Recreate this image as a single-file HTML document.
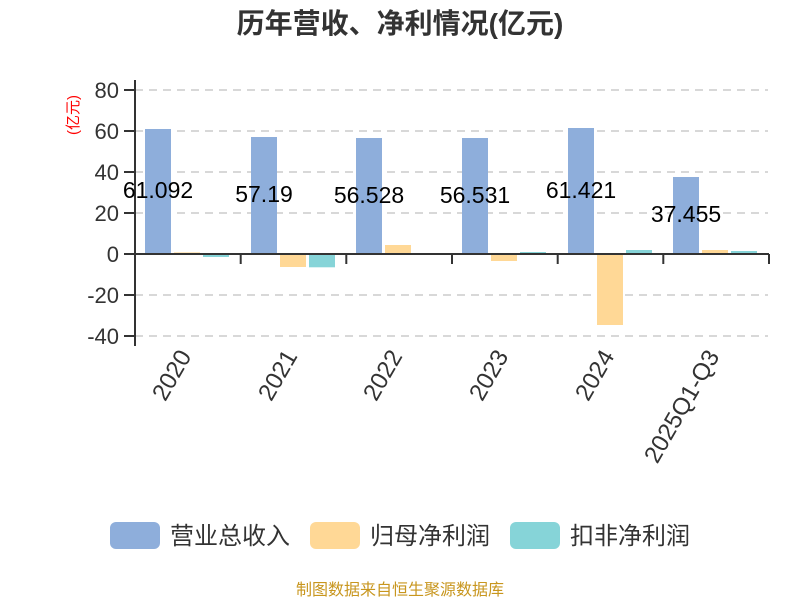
<!DOCTYPE html><html><head><meta charset="utf-8"><style>body{margin:0;background:#fff}svg{display:block}text{font-family:"Liberation Sans","Noto Sans CJK SC",sans-serif}</style></head><body>
<svg width="800" height="600" xmlns="http://www.w3.org/2000/svg">
<text x="400" y="33" text-anchor="middle" font-size="28" font-weight="bold" fill="#333">历年营收、净利情况(亿元)</text>
<g stroke="#ccc" stroke-width="1.5" stroke-dasharray="8,6">
<line x1="135" y1="90" x2="768" y2="90"/><line x1="135" y1="131" x2="768" y2="131"/><line x1="135" y1="172" x2="768" y2="172"/><line x1="135" y1="213" x2="768" y2="213"/><line x1="135" y1="295" x2="768" y2="295"/><line x1="135" y1="336" x2="768" y2="336"/>
</g>
<g font-size="22" fill="#333" text-anchor="end">
<text x="119" y="98">80</text><text x="119" y="139">60</text><text x="119" y="180">40</text><text x="119" y="221">20</text><text x="119" y="262">0</text><text x="119" y="303">-20</text><text x="119" y="344">-40</text>
</g>
<text transform="translate(78,115) rotate(-90)" text-anchor="middle" font-size="15" fill="red">(亿元)</text>
<g>
<rect x="145" y="129" width="26" height="125" fill="#8eaedb"/><rect x="174" y="252.4" width="26" height="1.6" fill="#ffd896"/><rect x="203" y="254" width="26" height="3" fill="#86d4d8"/>
<rect x="251" y="137" width="26" height="117" fill="#8eaedb"/><rect x="280" y="254" width="26" height="13" fill="#ffd896"/><rect x="309" y="254" width="26" height="13.3" fill="#86d4d8"/>
<rect x="356" y="138" width="26" height="116" fill="#8eaedb"/><rect x="385" y="245" width="26" height="9" fill="#ffd896"/><rect x="414" y="253" width="26" height="1" fill="#86d4d8"/>
<rect x="462" y="138" width="26" height="116" fill="#8eaedb"/><rect x="491" y="254" width="26" height="7" fill="#ffd896"/><rect x="520" y="252" width="26" height="2" fill="#86d4d8"/>
<rect x="568" y="128" width="26" height="126" fill="#8eaedb"/><rect x="597" y="254" width="26" height="71" fill="#ffd896"/><rect x="626" y="250" width="26" height="4" fill="#86d4d8"/>
<rect x="673" y="177" width="26" height="77" fill="#8eaedb"/><rect x="702" y="250" width="26" height="4" fill="#ffd896"/><rect x="731" y="251" width="26" height="3" fill="#86d4d8"/>
</g>
<g stroke="#333" stroke-width="2" fill="none">
<line x1="135" y1="80" x2="135" y2="346"/><line x1="124" y1="90" x2="135" y2="90"/><line x1="124" y1="131" x2="135" y2="131"/><line x1="124" y1="172" x2="135" y2="172"/><line x1="124" y1="213" x2="135" y2="213"/><line x1="124" y1="254" x2="135" y2="254"/><line x1="124" y1="295" x2="135" y2="295"/><line x1="124" y1="336" x2="135" y2="336"/>
<line x1="124" y1="254" x2="769" y2="254"/>
<line x1="240.7" y1="254" x2="240.7" y2="264"/><line x1="346.3" y1="254" x2="346.3" y2="264"/><line x1="452" y1="254" x2="452" y2="264"/><line x1="557.7" y1="254" x2="557.7" y2="264"/><line x1="663.3" y1="254" x2="663.3" y2="264"/><line x1="769" y1="254" x2="769" y2="264"/>
</g>
<g font-size="23" fill="#000" text-anchor="middle">
<text x="158" y="198">61.092</text><text x="264" y="202">57.19</text><text x="369" y="203">56.528</text><text x="475" y="203">56.531</text><text x="581" y="198">61.421</text><text x="686" y="222">37.455</text>
</g>
<g font-size="24" fill="#333" text-anchor="end">
<text transform="translate(192,356) rotate(-60)">2020</text>
<text transform="translate(298,356) rotate(-60)">2021</text>
<text transform="translate(403,356) rotate(-60)">2022</text>
<text transform="translate(509,356) rotate(-60)">2023</text>
<text transform="translate(615,356) rotate(-60)">2024</text>
<text transform="translate(720,356) rotate(-60)">2025Q1-Q3</text>
</g>
<rect x="110" y="522" width="50" height="27" rx="6" fill="#8eaedb"/><text x="170" y="544" font-size="24" fill="#333">营业总收入</text>
<rect x="310" y="522" width="50" height="27" rx="6" fill="#ffd896"/><text x="370" y="544" font-size="24" fill="#333">归母净利润</text>
<rect x="510" y="522" width="50" height="27" rx="6" fill="#86d4d8"/><text x="570" y="544" font-size="24" fill="#333">扣非净利润</text>
<text x="400" y="595" text-anchor="middle" font-size="16" fill="#c8961e">制图数据来自恒生聚源数据库</text>
</svg></body></html>
